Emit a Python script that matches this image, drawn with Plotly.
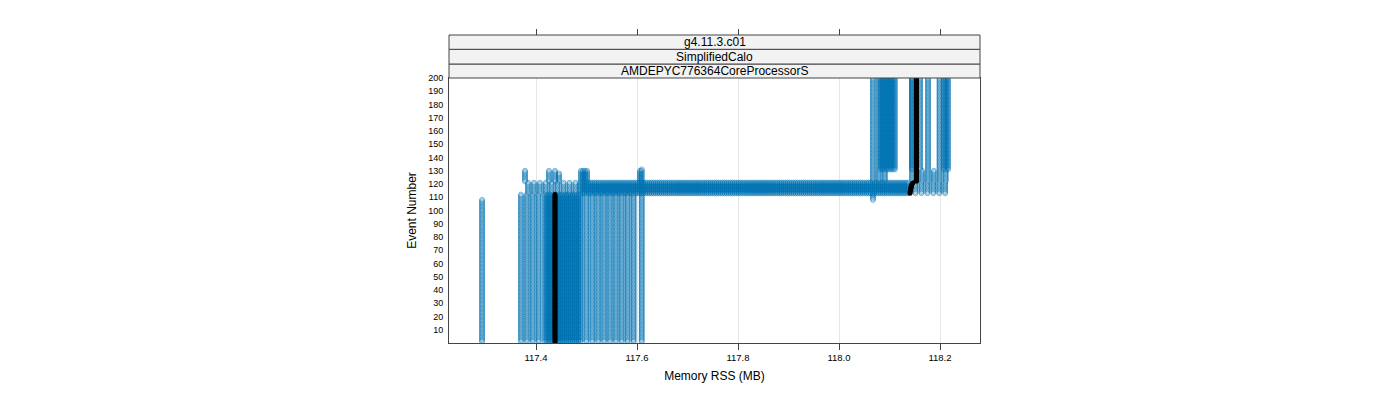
import numpy as np
import plotly.graph_objects as go

PAGE_MB = 1.0 / 256.0  # one 4 KiB page, in MB

# ---- blue points: groups of runs ----
# each group: memory from lo to hi (MB) every `stride` pages, for events ev_lo..ev_hi
grp_x_lo   = [117.2931, 117.3703, 117.4178, 117.4996, 117.6094,
              117.3842, 117.4881, 118.0673, 118.1515,
              117.3782, 117.4257, 117.4376, 117.4455, 117.4891, 117.5010, 117.6059,
              118.0673, 118.1446, 118.1644,
              118.0673, 118.0792, 118.1446, 118.1604, 118.1762, 118.1990, 118.2079]
grp_x_hi   = [117.2931, 117.4059, 117.4900, 117.5934, 117.6133,
              117.4780, 118.1370, 118.0673, 118.2109,
              117.3782, 117.4257, 117.4376, 117.4455, 117.4970, 117.5010, 117.6059,
              118.0911, 118.1446, 118.2119,
              118.0673, 118.1109, 118.1515, 118.1604, 118.1762, 118.1990, 118.2158]
grp_stride = [1, 3, 1, 3, 1,
              3, 1, 1, 3,
              1, 1, 1, 1, 1, 1, 1,
              3, 1, 3,
              1, 1, 2, 1, 1, 1, 1]
grp_ev_lo  = [1, 1, 1, 1, 1,
              113, 113, 108, 113,
              122, 122, 122, 122, 122, 122, 122,
              122, 122, 122,
              131, 131, 131, 131, 131, 131, 131]
grp_ev_hi  = [108, 112, 112, 112, 131,
              121, 121, 113, 121,
              130, 130, 130, 128, 130, 130, 130,
              130, 200, 130,
              200, 200, 200, 200, 200, 200, 200]

# ---- black points: per-event median ----
med_ev_lo = [1,        113,      115,      117,      119,      120,      121,      122]
med_ev_hi = [112,      114,      116,      118,      119,      120,      121,      200]
med_x     = [117.4376, 118.1406, 118.1416, 118.1426, 118.1436, 118.1446, 118.1465, 118.1535]

x_ticks = [117.4, 117.6, 117.8, 118.0, 118.2]
y_ticks = list(range(10, 201, 10))
strip_labels = ["g4.11.3.c01", "SimplifiedCalo", "AMDEPYC776364CoreProcessorS"]

# expand groups into points
bx, by = [], []
for lo, hi, st, e0, e1 in zip(grp_x_lo, grp_x_hi, grp_stride, grp_ev_lo, grp_ev_hi):
    xs = np.arange(lo, hi + 1e-9, st * PAGE_MB) if hi > lo else np.array([lo])
    for ev in range(e0, e1 + 1):
        bx.extend(xs.tolist())
        by.extend([ev] * len(xs))

mx, my = [], []
for e0, e1, xv in zip(med_ev_lo, med_ev_hi, med_x):
    for ev in range(e0, e1 + 1):
        mx.append(xv)
        my.append(ev)

BLUE = "#0072B2"
fig = go.Figure()
fig.add_trace(go.Scatter(x=bx, y=by, mode="markers", hoverinfo="skip",
                         marker=dict(symbol="circle-open", size=5, color=BLUE,
                                     opacity=0.65,
                                     line=dict(width=0.8, color=BLUE))))
fig.add_trace(go.Scatter(x=mx, y=my, mode="markers", hoverinfo="skip",
                         marker=dict(symbol="circle", size=5, color="black",
                                     line=dict(width=0))))
fig.add_trace(go.Scatter(x=[None], y=[None], xaxis="x2", yaxis="y", hoverinfo="skip"))

XR = [117.2277, 118.2792]
Y_TOP = 265.0 / 308.0
FRAME = "#444444"

fig.update_layout(
    width=1400, height=400,
    margin=dict(l=449, r=420, t=35, b=57),
    paper_bgcolor="white", plot_bgcolor="white",
    showlegend=False,
    font=dict(family="Liberation Sans, Arial, sans-serif", color="black"),
    xaxis=dict(range=XR, tickvals=x_ticks, ticktext=[f"{v:.1f}" for v in x_ticks],
               ticks="outside", ticklen=6, tickcolor=FRAME, showline=True,
               linecolor=FRAME, linewidth=1, mirror=True, showgrid=True,
               gridcolor="#e6e6e6", zeroline=False, tickfont=dict(size=9.5),
               title=dict(text="Memory RSS (MB)", font=dict(size=12), standoff=9)),
    xaxis2=dict(range=XR, tickvals=x_ticks, overlaying="x", side="top",
                anchor="free", position=1, ticks="outside", ticklen=6,
                tickcolor=FRAME, showticklabels=False, showline=False,
                showgrid=False, zeroline=False),
    yaxis=dict(domain=[0, Y_TOP], range=[0, 200], tickvals=y_ticks,
               ticks="outside", ticklen=3, tickcolor="rgba(0,0,0,0)",
               showline=True, linecolor=FRAME, linewidth=1, mirror=True,
               showgrid=False, zeroline=False, tickfont=dict(size=9),
               title=dict(text="Event Number", font=dict(size=12), standoff=8)),
)

edges = [Y_TOP, 279.0 / 308.0, 293.7 / 308.0, 1.0]
for i, lab in enumerate(reversed(strip_labels)):
    y0, y1 = edges[i], edges[i + 1]
    fig.add_shape(type="rect", xref="paper", yref="paper", x0=0, x1=1, y0=y0, y1=y1,
                  fillcolor="#f2f2f2", line=dict(color=FRAME, width=1), layer="above")
    fig.add_annotation(xref="paper", yref="paper", x=0.5, y=(y0 + y1) / 2, text=lab,
                       showarrow=False, font=dict(size=12, color="black"),
                       xanchor="center", yanchor="middle")

fig.write_html("out.html")
